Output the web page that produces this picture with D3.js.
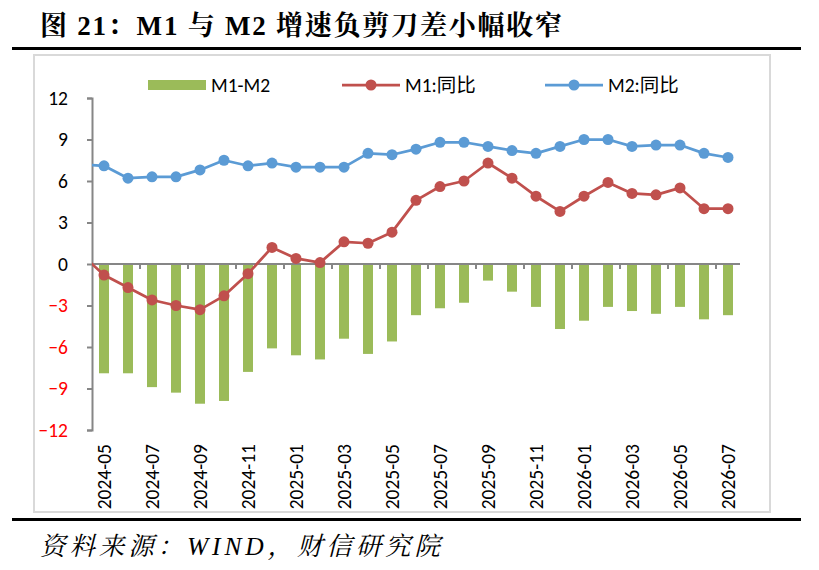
<!DOCTYPE html>
<html>
<head>
<meta charset="utf-8">
<script src="https://cdn.jsdelivr.net/npm/d3@7"></script>
<style>
  body { margin: 0; background: #fff; }
  .lbl { font-family: Carlito, Lato, "Noto Sans CJK SC", sans-serif; font-size: 19.5px; fill: #000; }
</style>
</head>
<body>
<svg width="819" height="570"></svg>
<script>
// monthly data
const months = ["2024-05","2024-06","2024-07","2024-08","2024-09","2024-10","2024-11","2024-12",
  "2025-01","2025-02","2025-03","2025-04","2025-05","2025-06","2025-07","2025-08","2025-09","2025-10",
  "2025-11","2025-12","2026-01","2026-02","2026-03","2026-04","2026-05","2026-06","2026-07"];
const m1m2 = [-7.9,-7.9,-8.9,-9.3,-10.1,-9.9,-7.8,-6.1,-6.6,-6.9,-5.4,-6.5,-5.6,-3.7,-3.2,-2.8,-1.2,-2.0,
  -3.1,-4.7,-4.1,-3.1,-3.4,-3.6,-3.1,-4.0,-3.7];
const m1 = [-0.8,-1.7,-2.6,-3.0,-3.3,-2.3,-0.7,1.2,0.4,0.1,1.6,1.5,2.3,4.6,5.6,6.0,7.3,6.2,
  4.9,3.8,4.9,5.9,5.1,5.0,5.5,4.0,4.0];
const m2 = [7.1,6.2,6.3,6.3,6.8,7.5,7.1,7.3,7.0,7.0,7.0,8.0,7.9,8.3,8.8,8.8,8.5,8.2,
  8.0,8.5,9.0,9.0,8.5,8.6,8.6,8.0,7.7];
// 2024-04 values: the lines start there, off the left edge of the plot
const m1Lead = 0.8, m2Lead = 7.2;
const yTicks = [-12,-9,-6,-3,0,3,6,9,12];

const svg = d3.select("svg");
const plotL = 92, plotR = 740, plotT = 98, plotB = 430;

// title, rules, source
svg.append("text")
  .attr("x", 40).attr("y", 35)
  .attr("textLength", 522).attr("lengthAdjust", "spacing")
  .style("font-family", "'Liberation Serif', 'Noto Serif CJK SC', 'Noto Sans CJK SC', serif")
  .style("font-weight", "bold").style("font-size", "27px")
  .text("图 21：M1 与 M2 增速负剪刀差小幅收窄");
svg.append("rect").attr("x", 12).attr("y", 47).attr("width", 789).attr("height", 3).attr("fill", "#000");
svg.append("rect").attr("x", 12).attr("y", 518).attr("width", 789).attr("height", 3).attr("fill", "#000");
svg.append("text")
  .attr("x", 40).attr("y", 555)
  .attr("textLength", 400).attr("lengthAdjust", "spacing")
  .style("font-family", "'Liberation Serif', 'Noto Serif CJK SC', 'Noto Sans CJK SC', serif")
  .style("font-style", "italic").style("font-size", "25.5px")
  .text("资料来源：WIND，财信研究院");

// chart frame
svg.append("rect").attr("x", 34).attr("y", 55).attr("width", 736).attr("height", 457)
  .attr("fill", "none").attr("stroke", "#d9d9d9").attr("stroke-width", 2);

let x = d3.scaleBand().domain(months).range([plotL, plotR]);
let y = d3.scaleLinear().domain([-12, 12]).range([plotB, plotT]);
let step = x.step();
let cx = d => x(d) + step / 2;

svg.append("clipPath").attr("id", "plot")
  .append("rect").attr("x", plotL).attr("y", plotT - 10).attr("width", plotR - plotL).attr("height", plotB - plotT + 20);

// bars
let barW = 10;
svg.append("g").selectAll("rect")
  .data(months)
  .enter()
  .append("rect")
    .attr("x", d => cx(d) - barW / 2)
    .attr("width", barW)
    .attr("y", (d, i) => Math.min(y(0), y(m1m2[i])))
    .attr("height", (d, i) => Math.abs(y(m1m2[i]) - y(0)))
    .attr("fill", "#9bbb59");

// axes
let yAxis = svg.append("g")
  .attr("transform", `translate(${plotL},0)`)
  .call(d3.axisLeft(y).tickValues(yTicks).tickSize(5).tickPadding(19).tickFormat(d3.format("d")));
yAxis.select(".domain").attr("stroke", "#868686").attr("stroke-width", 2);
yAxis.selectAll(".tick line").attr("stroke", "#868686").attr("stroke-width", 2);
yAxis.selectAll(".tick text")
  .attr("class", "lbl")
  .style("fill", d => d < 0 ? "#ff0000" : "#000");

svg.append("line")
  .attr("x1", plotL).attr("x2", plotR).attr("y1", y(0)).attr("y2", y(0))
  .attr("stroke", "#868686").attr("stroke-width", 2);
let every2 = months.filter((d, i) => i % 2 === 0);
svg.append("g").selectAll("line")
  .data(every2.slice(1))
  .enter()
  .append("line")
    .attr("x1", d => x(d)).attr("x2", d => x(d))
    .attr("y1", y(0)).attr("y2", y(0) + 5)
    .attr("stroke", "#868686").attr("stroke-width", 2);
svg.append("g").selectAll("text")
  .data(every2)
  .enter()
  .append("text")
    .attr("class", "lbl")
    .attr("transform", d => `translate(${cx(d)},444) rotate(-90)`)
    .attr("text-anchor", "end")
    .attr("dominant-baseline", "central")
    .text(d => d);

// lines
function drawSeries(values, lead, color) {
  let pts = [[cx(months[0]) - step, lead]].concat(months.map((d, i) => [cx(d), values[i]]));
  let g = svg.append("g").attr("clip-path", "url(#plot)");
  g.append("path")
    .datum(pts)
    .attr("fill", "none")
    .attr("stroke", color)
    .attr("stroke-width", 2.75)
    .attr("stroke-linejoin", "round")
    .attr("d", d3.line().x(p => p[0]).y(p => y(p[1])));
  g.selectAll("circle")
    .data(pts.slice(1))
    .enter()
    .append("circle")
      .attr("cx", p => p[0])
      .attr("cy", p => y(p[1]))
      .attr("r", 5.5)
      .attr("fill", color);
}
drawSeries(m1, m1Lead, "#c0504d");
drawSeries(m2, m2Lead, "#5b9bd5");

// legend
let ly = 85;
svg.append("rect").attr("x", 148).attr("y", ly - 5).attr("width", 58).attr("height", 10).attr("fill", "#9bbb59");
svg.append("text").attr("class", "lbl").attr("x", 211).attr("y", ly).attr("dominant-baseline", "central").text("M1-M2");
[[342, "#c0504d", "M1:同比"], [545, "#5b9bd5", "M2:同比"]].forEach(function (e) {
  svg.append("line").attr("x1", e[0]).attr("x2", e[0] + 58).attr("y1", ly).attr("y2", ly)
    .attr("stroke", e[1]).attr("stroke-width", 2.75);
  svg.append("circle").attr("cx", e[0] + 29).attr("cy", ly).attr("r", 5.5).attr("fill", e[1]);
  svg.append("text").attr("class", "lbl").attr("x", e[0] + 63).attr("y", ly)
    .attr("dominant-baseline", "central").text(e[2]);
});
</script>
</body>
</html>
